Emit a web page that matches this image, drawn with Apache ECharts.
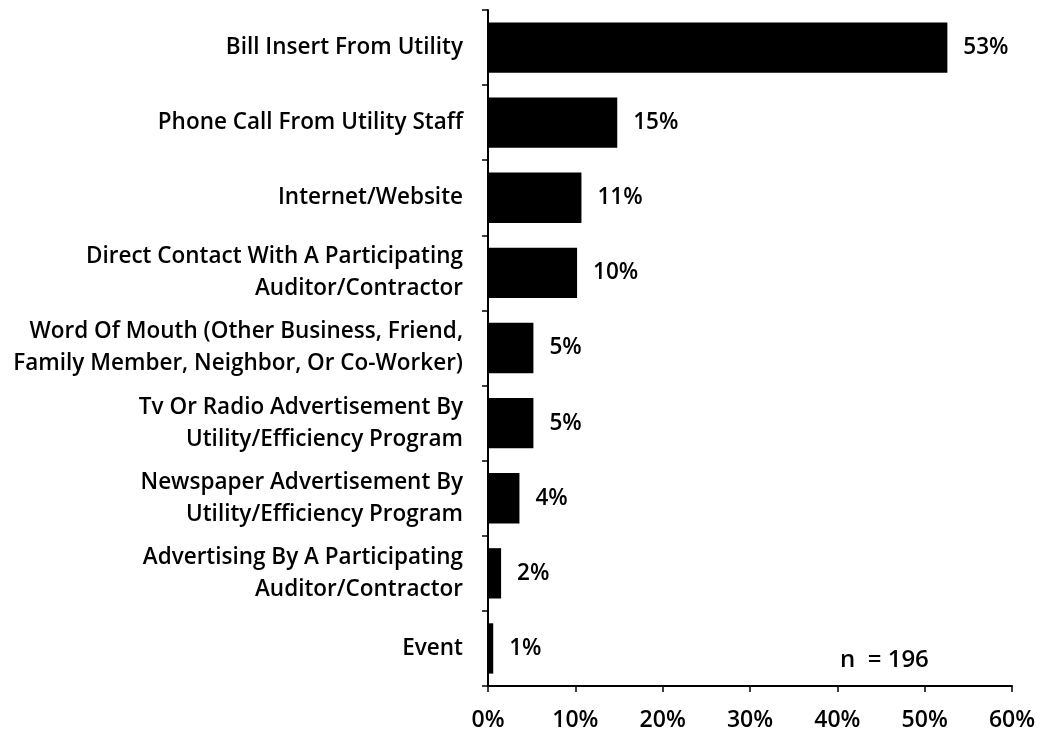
<!DOCTYPE html>
<html>
<head>
<meta charset="utf-8">
<script src="https://cdn.jsdelivr.net/npm/echarts@6/dist/echarts.min.js"></script>
<style>
  html, body { margin: 0; padding: 0; background: #fff; }
  #chart { width: 1041px; height: 735px; }
</style>
</head>
<body>
<div id="chart"></div>
<script>
// How respondents heard about the program (share of respondents, %)
const categories = [
  'Bill Insert From Utility',
  'Phone Call From Utility Staff',
  'Internet/Website',
  'Direct Contact With A Participating\nAuditor/Contractor',
  'Word Of Mouth (Other Business, Friend,\nFamily Member, Neighbor, Or Co-Worker)',
  'Tv Or Radio Advertisement By\nUtility/Efficiency Program',
  'Newspaper Advertisement By\nUtility/Efficiency Program',
  'Advertising By A Participating\nAuditor/Contractor',
  'Event'
];
const shares = [52.6, 14.8, 10.7, 10.2, 5.2, 5.2, 3.6, 1.5, 0.6];
const xTicks = [0, 10, 20, 30, 40, 50, 60];
const sampleNote = 'n  = 196';

const FONT = '"Open Sans", Lato, sans-serif';
const chart = echarts.init(document.getElementById('chart'));

chart.setOption({
  animation: false,
  backgroundColor: '#ffffff',
  grid: { left: 488, right: 29, top: 10, bottom: 49, containLabel: false },
  xAxis: {
    type: 'value',
    min: xTicks[0],
    max: xTicks[xTicks.length - 1],
    interval: xTicks[1] - xTicks[0],
    axisLine: { show: true, lineStyle: { color: '#000', width: 2 } },
    axisTick: { show: true, length: 6, lineStyle: { color: '#000', width: 1.5 } },
    splitLine: { show: false },
    axisLabel: {
      formatter: v => v + '%',
      color: '#000', fontFamily: FONT, fontSize: 23, fontWeight: 600, margin: 23
    }
  },
  yAxis: {
    type: 'category',
    data: categories,
    inverse: true,
    axisLine: { show: true, lineStyle: { color: '#000', width: 2 } },
    axisTick: { show: true, length: 6, lineStyle: { color: '#000', width: 1.5 } },
    axisLabel: {
      color: '#000', fontFamily: FONT, fontSize: 22.5, fontWeight: 600, lineHeight: 32,
      margin: 25, align: 'right'
    }
  },
  series: [{
    type: 'bar',
    data: shares,
    barCategoryGap: '33%',
    itemStyle: { color: '#000' },
    label: {
      show: true,
      position: 'right',
      distance: 16,
      formatter: p => Math.round(p.value) + '%',
      color: '#000', fontFamily: FONT, fontSize: 22.5, fontWeight: 600
    }
  }],
  graphic: [{
    type: 'text',
    left: 840,
    top: 648,
    style: { text: sampleNote, fill: '#000', font: '600 24px ' + FONT }
  }]
});
</script>
</body>
</html>
